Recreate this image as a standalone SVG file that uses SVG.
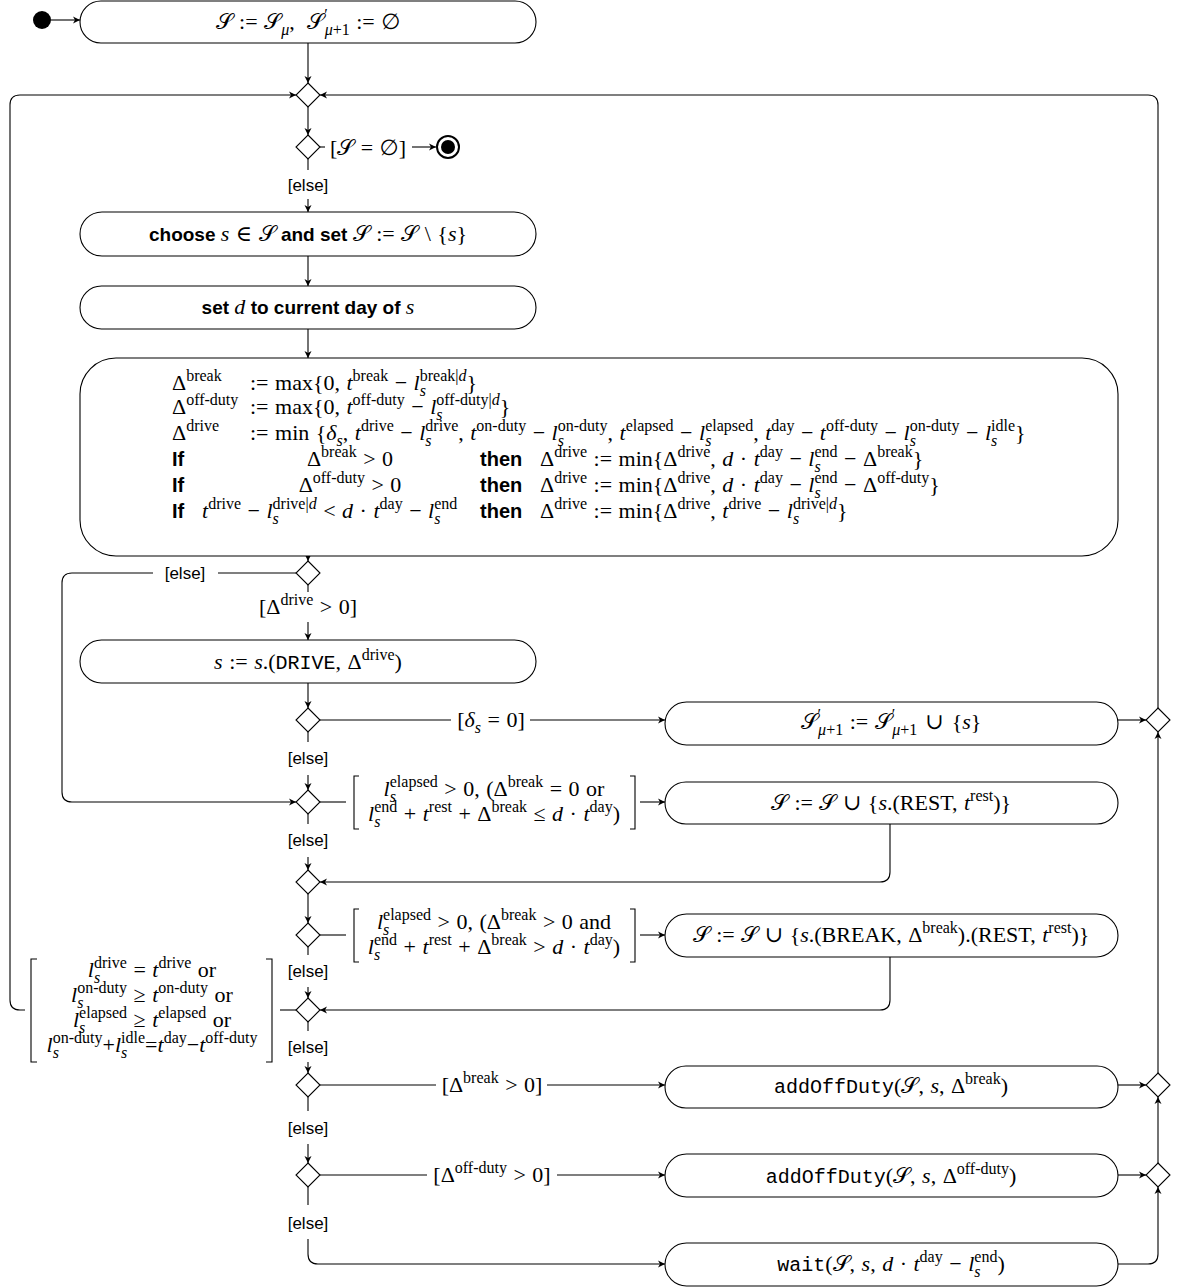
<svg xmlns="http://www.w3.org/2000/svg" width="1177" height="1288" viewBox="0 0 1177 1288">
<defs>
<marker id="ar" markerWidth="10" markerHeight="10" refX="8" refY="5" orient="auto" markerUnits="userSpaceOnUse">
<path d="M1,1.5 L8,5 L1,8.5 L3,5 z" fill="#000"/>
</marker>
<style>
.box{fill:#fff;stroke:#000;stroke-width:1.1}
.dm{fill:#fff;stroke:#000;stroke-width:1.1}
.ln{fill:none;stroke:#000;stroke-width:1.1}
.la{fill:none;stroke:#000;stroke-width:1.1;marker-end:url(#ar)}
.m{font-family:"Liberation Serif","DejaVu Serif","DejaVu Sans",serif;font-size:22px;fill:#000;word-spacing:1px}
.i{font-style:italic}
.sp{font-size:16px;word-spacing:0}
.sf{font-family:"Liberation Sans","DejaVu Sans",sans-serif;font-size:17px;fill:#000}
.sb{font-family:"Liberation Sans","DejaVu Sans",sans-serif;font-size:19px;font-weight:bold;word-spacing:0}
.tt{font-family:"Liberation Mono","DejaVu Sans Mono",monospace;font-size:20px}
</style>
</defs>
<rect width="1177" height="1288" fill="#fff"/>

<g id="connectors">
<line class="la" x1="51" y1="20" x2="80" y2="20"/>
<line class="la" x1="308" y1="42" x2="308" y2="83"/>
<line class="la" x1="308" y1="107" x2="308" y2="135"/>
<line class="ln" x1="320" y1="147" x2="325" y2="147"/>
<line class="la" x1="412" y1="147" x2="436" y2="147"/>
<line class="ln" x1="308" y1="159" x2="308" y2="170"/>
<line class="la" x1="308" y1="199" x2="308" y2="212"/>
<line class="la" x1="308" y1="256" x2="308" y2="286"/>
<line class="la" x1="308" y1="329" x2="308" y2="358"/>
<line class="la" x1="308" y1="556" x2="308" y2="561"/>
<line class="ln" x1="296" y1="573" x2="218" y2="573"/>
<path class="la" d="M153,573 H72 Q62,573 62,583 V792 Q62,802 72,802 H296"/>
<line class="ln" x1="308" y1="585" x2="308" y2="592"/>
<line class="la" x1="308" y1="622" x2="308" y2="640"/>
<line class="la" x1="308" y1="683" x2="308" y2="708"/>
<line class="ln" x1="320" y1="720" x2="451" y2="720"/>
<line class="la" x1="530" y1="720" x2="665" y2="720"/>
<line class="la" x1="1118" y1="720" x2="1146" y2="720"/>
<line class="ln" x1="308" y1="732" x2="308" y2="742"/>
<line class="la" x1="308" y1="775" x2="308" y2="790"/>
<line class="ln" x1="320" y1="802" x2="346" y2="802"/>
<line class="la" x1="640" y1="802" x2="665" y2="802"/>
<line class="ln" x1="308" y1="814" x2="308" y2="824"/>
<line class="la" x1="308" y1="857" x2="308" y2="870"/>
<path class="la" d="M890,824 V872 Q890,882 880,882 H320"/>
<line class="la" x1="308" y1="894" x2="308" y2="923"/>
<line class="ln" x1="320" y1="935" x2="346" y2="935"/>
<line class="la" x1="640" y1="935" x2="665" y2="935"/>
<line class="ln" x1="308" y1="947" x2="308" y2="955"/>
<line class="la" x1="308" y1="987" x2="308" y2="998"/>
<path class="la" d="M890,957 V1000 Q890,1010 880,1010 H320"/>
<line class="ln" x1="296" y1="1010" x2="280" y2="1010"/>
<path class="la" d="M25,1010 H20 Q10,1010 10,1000 V105 Q10,95 20,95 H296"/>
<line class="ln" x1="308" y1="1022" x2="308" y2="1031"/>
<line class="la" x1="308" y1="1062" x2="308" y2="1073"/>
<line class="ln" x1="320" y1="1085" x2="436" y2="1085"/>
<line class="la" x1="547" y1="1085" x2="665" y2="1085"/>
<line class="la" x1="1118" y1="1085" x2="1146" y2="1085"/>
<line class="ln" x1="308" y1="1097" x2="308" y2="1111"/>
<line class="la" x1="308" y1="1144" x2="308" y2="1163"/>
<line class="ln" x1="320" y1="1175" x2="427" y2="1175"/>
<line class="la" x1="557" y1="1175" x2="665" y2="1175"/>
<line class="la" x1="1118" y1="1175" x2="1146" y2="1175"/>
<line class="ln" x1="308" y1="1187" x2="308" y2="1205"/>
<path class="la" d="M308,1239 V1254 Q308,1264 318,1264 H665"/>
<path class="la" d="M1118,1264 H1148 Q1158,1264 1158,1254 V1187"/>
<line class="la" x1="1158" y1="1163" x2="1158" y2="1097"/>
<line class="la" x1="1158" y1="1073" x2="1158" y2="732"/>
<path class="la" d="M1158,708 V105 Q1158,95 1148,95 H320"/>
</g>

<g id="labels">
<text class="m" x="368" y="155" text-anchor="middle">[𝒮 = ∅]</text>
<text class="sf" x="308" y="191" text-anchor="middle">[else]</text>
<text class="sf" x="185" y="579" text-anchor="middle">[else]</text>
<text class="m" x="308" y="614" text-anchor="middle">[Δ<tspan class="sp" dy="-9">drive</tspan><tspan dy="9"> &gt; 0]</tspan></text>
<text class="m" x="491" y="727" text-anchor="middle">[<tspan class="i">δ</tspan><tspan class="sp i" dy="6">s</tspan><tspan dy="-6"> = 0]</tspan></text>
<text class="sf" x="308" y="764" text-anchor="middle">[else]</text>
<path class="ln" d="M359,776 H354 V829 H359 M630,776 H635 V829 H630"/>
<text class="m" x="494" y="796" text-anchor="middle"><tspan class="i">l</tspan><tspan class="sp i" dy="6">s</tspan><tspan class="sp" dx="-6.2" dy="-15">elapsed</tspan><tspan dy="9"> &gt; 0, (Δ</tspan><tspan class="sp" dy="-9">break</tspan><tspan dy="9"> = 0 or</tspan></text>
<text class="m" x="494" y="821" text-anchor="middle"><tspan class="i">l</tspan><tspan class="sp i" dy="6">s</tspan><tspan class="sp" dx="-6.2" dy="-15">end</tspan><tspan dy="9"> + </tspan><tspan class="i">t</tspan><tspan class="sp" dy="-9">rest</tspan><tspan dy="9"> + Δ</tspan><tspan class="sp" dy="-9">break</tspan><tspan dy="9"> ≤ </tspan><tspan class="i">d</tspan> · <tspan class="i">t</tspan><tspan class="sp" dy="-9">day</tspan><tspan dy="9">)</tspan></text>
<text class="sf" x="308" y="846" text-anchor="middle">[else]</text>
<path class="ln" d="M359,909 H354 V962 H359 M630,909 H635 V962 H630"/>
<text class="m" x="494" y="929" text-anchor="middle"><tspan class="i">l</tspan><tspan class="sp i" dy="6">s</tspan><tspan class="sp" dx="-6.2" dy="-15">elapsed</tspan><tspan dy="9"> &gt; 0, (Δ</tspan><tspan class="sp" dy="-9">break</tspan><tspan dy="9"> &gt; 0 and</tspan></text>
<text class="m" x="494" y="954" text-anchor="middle"><tspan class="i">l</tspan><tspan class="sp i" dy="6">s</tspan><tspan class="sp" dx="-6.2" dy="-15">end</tspan><tspan dy="9"> + </tspan><tspan class="i">t</tspan><tspan class="sp" dy="-9">rest</tspan><tspan dy="9"> + Δ</tspan><tspan class="sp" dy="-9">break</tspan><tspan dy="9"> &gt; </tspan><tspan class="i">d</tspan> · <tspan class="i">t</tspan><tspan class="sp" dy="-9">day</tspan><tspan dy="9">)</tspan></text>
<text class="sf" x="308" y="977" text-anchor="middle">[else]</text>
<path class="ln" d="M37,959 H31 V1062 H37 M266,959 H272 V1062 H266"/>
<text class="m" x="152" y="977" text-anchor="middle"><tspan class="i">l</tspan><tspan class="sp i" dy="6">s</tspan><tspan class="sp" dx="-6.2" dy="-15">drive</tspan><tspan dy="9"> = </tspan><tspan class="i">t</tspan><tspan class="sp" dy="-9">drive</tspan><tspan dy="9"> or</tspan></text>
<text class="m" x="152" y="1002" text-anchor="middle"><tspan class="i">l</tspan><tspan class="sp i" dy="6">s</tspan><tspan class="sp" dx="-6.2" dy="-15">on-duty</tspan><tspan dy="9"> ≥ </tspan><tspan class="i">t</tspan><tspan class="sp" dy="-9">on-duty</tspan><tspan dy="9"> or</tspan></text>
<text class="m" x="152" y="1027" text-anchor="middle"><tspan class="i">l</tspan><tspan class="sp i" dy="6">s</tspan><tspan class="sp" dx="-6.2" dy="-15">elapsed</tspan><tspan dy="9"> ≥ </tspan><tspan class="i">t</tspan><tspan class="sp" dy="-9">elapsed</tspan><tspan dy="9"> or</tspan></text>
<text class="m" x="152" y="1052" text-anchor="middle"><tspan class="i">l</tspan><tspan class="sp i" dy="6">s</tspan><tspan class="sp" dx="-6.2" dy="-15">on-duty</tspan><tspan dy="9">+</tspan><tspan class="i">l</tspan><tspan class="sp i" dy="6">s</tspan><tspan class="sp" dx="-6.2" dy="-15">idle</tspan><tspan dy="9">=</tspan><tspan class="i">t</tspan><tspan class="sp" dy="-9">day</tspan><tspan dy="9">−</tspan><tspan class="i">t</tspan><tspan class="sp" dy="-9">off-duty</tspan></text>
<text class="sf" x="308" y="1053" text-anchor="middle">[else]</text>
<text class="m" x="492" y="1092" text-anchor="middle">[Δ<tspan class="sp" dy="-9">break</tspan><tspan dy="9"> &gt; 0]</tspan></text>
<text class="sf" x="308" y="1134" text-anchor="middle">[else]</text>
<text class="m" x="492" y="1182" text-anchor="middle">[Δ<tspan class="sp" dy="-9">off-duty</tspan><tspan dy="9"> &gt; 0]</tspan></text>
<text class="sf" x="308" y="1229" text-anchor="middle">[else]</text>
</g>

<g id="start"><circle cx="42" cy="20" r="9" fill="#000"/></g>
<g id="end"><circle cx="448" cy="147" r="11" fill="#fff" stroke="#000" stroke-width="2"/><circle cx="448" cy="147" r="7" fill="#000"/></g>

<g id="n-init">
<rect class="box" x="80" y="1" width="456" height="42" rx="21"/>
<text class="m" x="308" y="29" text-anchor="middle">𝒮 := 𝒮<tspan class="sp i" dy="6">μ</tspan><tspan dy="-6">, </tspan><tspan dx="6">𝒮</tspan><tspan class="sp" dy="-9">′</tspan><tspan class="sp" dx="-3" dy="15"><tspan class="i">μ</tspan>+1</tspan><tspan dy="-6"> := ∅</tspan></text>
</g>

<g id="d-merge"><path class="dm" d="M308,83 L320,95 L308,107 L296,95 z"/></g>
<g id="d-empty"><path class="dm" d="M308,135 L320,147 L308,159 L296,147 z"/></g>

<g id="n-choose">
<rect class="box" x="80" y="212" width="456" height="44" rx="22"/>
<text class="m" x="308" y="241" text-anchor="middle"><tspan class="sb">choose </tspan><tspan class="i">s</tspan> ∈ 𝒮<tspan class="sb"> and set </tspan>𝒮 := 𝒮  \ {<tspan class="i">s</tspan>}</text>
</g>

<g id="n-day">
<rect class="box" x="80" y="286" width="456" height="43" rx="21.5"/>
<text class="m" x="308" y="314" text-anchor="middle"><tspan class="sb">set </tspan><tspan class="i">d</tspan><tspan class="sb"> to current day of </tspan><tspan class="i">s</tspan></text>
</g>

<g id="n-compute">
<rect class="box" x="80" y="358" width="1038" height="198" rx="36"/>
<text class="m" y="390"><tspan x="172">Δ</tspan><tspan class="sp" dy="-9">break</tspan><tspan x="250" dy="9">:= max{0, </tspan><tspan class="i">t</tspan><tspan class="sp" dy="-9">break</tspan><tspan dy="9"> − </tspan><tspan class="i">l</tspan><tspan class="sp i" dy="6">s</tspan><tspan class="sp" dx="-6.2" dy="-15">break|<tspan class="i">d</tspan></tspan><tspan dy="9">}</tspan></text>
<text class="m" y="414"><tspan x="172">Δ</tspan><tspan class="sp" dy="-9">off-duty</tspan><tspan x="250" dy="9">:= max{0, </tspan><tspan class="i">t</tspan><tspan class="sp" dy="-9">off-duty</tspan><tspan dy="9"> − </tspan><tspan class="i">l</tspan><tspan class="sp i" dy="6">s</tspan><tspan class="sp" dx="-6.2" dy="-15">off-duty|<tspan class="i">d</tspan></tspan><tspan dy="9">}</tspan></text>
<text class="m" y="440"><tspan x="172">Δ</tspan><tspan class="sp" dy="-9">drive</tspan><tspan x="250" dy="9">:= min {</tspan><tspan class="i">δ</tspan><tspan class="sp i" dy="6">s</tspan><tspan dy="-6">, </tspan><tspan class="i">t</tspan><tspan class="sp" dy="-9">drive</tspan><tspan dy="9"> − </tspan><tspan class="i">l</tspan><tspan class="sp i" dy="6">s</tspan><tspan class="sp" dx="-6.2" dy="-15">drive</tspan><tspan dy="9">, </tspan><tspan class="i">t</tspan><tspan class="sp" dy="-9">on-duty</tspan><tspan dy="9"> − </tspan><tspan class="i">l</tspan><tspan class="sp i" dy="6">s</tspan><tspan class="sp" dx="-6.2" dy="-15">on-duty</tspan><tspan dy="9">, </tspan><tspan class="i">t</tspan><tspan class="sp" dy="-9">elapsed</tspan><tspan dy="9"> − </tspan><tspan class="i">l</tspan><tspan class="sp i" dy="6">s</tspan><tspan class="sp" dx="-6.2" dy="-15">elapsed</tspan><tspan dy="9">, </tspan><tspan class="i">t</tspan><tspan class="sp" dy="-9">day</tspan><tspan dy="9"> − </tspan><tspan class="i">t</tspan><tspan class="sp" dy="-9">off-duty</tspan><tspan dy="9"> − </tspan><tspan class="i">l</tspan><tspan class="sp i" dy="6">s</tspan><tspan class="sp" dx="-6.2" dy="-15">on-duty</tspan><tspan dy="9"> − </tspan><tspan class="i">l</tspan><tspan class="sp i" dy="6">s</tspan><tspan class="sp" dx="-6.2" dy="-15">idle</tspan><tspan dy="9">}</tspan></text>
<text class="sb" x="172" y="466" style="font-size:20px">If</text>
<text class="m" x="350" y="466" text-anchor="middle">Δ<tspan class="sp" dy="-9">break</tspan><tspan dy="9"> &gt; 0</tspan></text>
<text class="sb" x="480" y="466" style="font-size:20px">then</text>
<text class="m" x="540" y="466">Δ<tspan class="sp" dy="-9">drive</tspan><tspan dy="9"> := min{Δ</tspan><tspan class="sp" dy="-9">drive</tspan><tspan dy="9">, </tspan><tspan class="i">d</tspan> · <tspan class="i">t</tspan><tspan class="sp" dy="-9">day</tspan><tspan dy="9"> − </tspan><tspan class="i">l</tspan><tspan class="sp i" dy="6">s</tspan><tspan class="sp" dx="-6.2" dy="-15">end</tspan><tspan dy="9"> − Δ</tspan><tspan class="sp" dy="-9">break</tspan><tspan dy="9">}</tspan></text>
<text class="sb" x="172" y="492" style="font-size:20px">If</text>
<text class="m" x="350" y="492" text-anchor="middle">Δ<tspan class="sp" dy="-9">off-duty</tspan><tspan dy="9"> &gt; 0</tspan></text>
<text class="sb" x="480" y="492" style="font-size:20px">then</text>
<text class="m" x="540" y="492">Δ<tspan class="sp" dy="-9">drive</tspan><tspan dy="9"> := min{Δ</tspan><tspan class="sp" dy="-9">drive</tspan><tspan dy="9">, </tspan><tspan class="i">d</tspan> · <tspan class="i">t</tspan><tspan class="sp" dy="-9">day</tspan><tspan dy="9"> − </tspan><tspan class="i">l</tspan><tspan class="sp i" dy="6">s</tspan><tspan class="sp" dx="-6.2" dy="-15">end</tspan><tspan dy="9"> − Δ</tspan><tspan class="sp" dy="-9">off-duty</tspan><tspan dy="9">}</tspan></text>
<text class="sb" x="172" y="518" style="font-size:20px">If</text>
<text class="m" x="202" y="518"><tspan class="i">t</tspan><tspan class="sp" dy="-9">drive</tspan><tspan dy="9"> − </tspan><tspan class="i">l</tspan><tspan class="sp i" dy="6">s</tspan><tspan class="sp" dx="-6.2" dy="-15">drive|<tspan class="i">d</tspan></tspan><tspan dy="9"> &lt; </tspan><tspan class="i">d</tspan> · <tspan class="i">t</tspan><tspan class="sp" dy="-9">day</tspan><tspan dy="9"> − </tspan><tspan class="i">l</tspan><tspan class="sp i" dy="6">s</tspan><tspan class="sp" dx="-6.2" dy="-15">end</tspan></text>
<text class="sb" x="480" y="518" style="font-size:20px">then</text>
<text class="m" x="540" y="518">Δ<tspan class="sp" dy="-9">drive</tspan><tspan dy="9"> := min{Δ</tspan><tspan class="sp" dy="-9">drive</tspan><tspan dy="9">, </tspan><tspan class="i">t</tspan><tspan class="sp" dy="-9">drive</tspan><tspan dy="9"> − </tspan><tspan class="i">l</tspan><tspan class="sp i" dy="6">s</tspan><tspan class="sp" dx="-6.2" dy="-15">drive|<tspan class="i">d</tspan></tspan><tspan dy="9">}</tspan></text>
</g>

<g id="d-drive"><path class="dm" d="M308,561 L320,573 L308,585 L296,573 z"/></g>

<g id="n-drive">
<rect class="box" x="80" y="640" width="456" height="43" rx="21.5"/>
<text class="m" x="308" y="669" text-anchor="middle"><tspan class="i">s</tspan> := <tspan class="i">s</tspan>.(<tspan class="tt">DRIVE</tspan>, Δ<tspan class="sp" dy="-9">drive</tspan><tspan dy="9">)</tspan></text>
</g>

<g id="d-delta"><path class="dm" d="M308,708 L320,720 L308,732 L296,720 z"/></g>

<g id="n-next">
<rect class="box" x="665" y="702" width="453" height="43" rx="21.5"/>
<text class="m" x="891" y="729" text-anchor="middle">𝒮<tspan class="sp" dy="-9">′</tspan><tspan class="sp" dx="-3" dy="15"><tspan class="i">μ</tspan>+1</tspan><tspan dy="-6"> := 𝒮</tspan><tspan class="sp" dy="-9">′</tspan><tspan class="sp" dx="-3" dy="15"><tspan class="i">μ</tspan>+1</tspan><tspan dy="-6" dx="8">∪</tspan><tspan dx="8">{</tspan><tspan class="i">s</tspan>}</text>
</g>

<g id="d-rest"><path class="dm" d="M308,790 L320,802 L308,814 L296,802 z"/></g>

<g id="n-rest">
<rect class="box" x="665" y="782" width="453" height="42" rx="21"/>
<text class="m" x="891" y="810" text-anchor="middle">𝒮 := 𝒮 ∪ {<tspan class="i">s</tspan>.(REST, <tspan class="i">t</tspan><tspan class="sp" dy="-9">rest</tspan><tspan dy="9">)}</tspan></text>
</g>

<g id="d-m1"><path class="dm" d="M308,870 L320,882 L308,894 L296,882 z"/></g>
<g id="d-break"><path class="dm" d="M308,923 L320,935 L308,947 L296,935 z"/></g>

<g id="n-breakrest">
<rect class="box" x="665" y="914" width="453" height="43" rx="21.5"/>
<text class="m" x="891" y="942" text-anchor="middle">𝒮 := 𝒮 ∪ {<tspan class="i">s</tspan>.(BREAK, Δ<tspan class="sp" dy="-9">break</tspan><tspan dy="9">).(REST, </tspan><tspan class="i">t</tspan><tspan class="sp" dy="-9">rest</tspan><tspan dy="9">)}</tspan></text>
</g>

<g id="d-limits"><path class="dm" d="M308,998 L320,1010 L308,1022 L296,1010 z"/></g>
<g id="d-offbreak"><path class="dm" d="M308,1073 L320,1085 L308,1097 L296,1085 z"/></g>

<g id="n-off1">
<rect class="box" x="665" y="1066" width="453" height="42" rx="21"/>
<text class="m" x="891" y="1093" text-anchor="middle"><tspan class="tt">addOffDuty</tspan>(𝒮, <tspan class="i">s</tspan>, Δ<tspan class="sp" dy="-9">break</tspan><tspan dy="9">)</tspan></text>
</g>

<g id="d-offduty"><path class="dm" d="M308,1163 L320,1175 L308,1187 L296,1175 z"/></g>

<g id="n-off2">
<rect class="box" x="665" y="1154" width="453" height="43" rx="21.5"/>
<text class="m" x="891" y="1183" text-anchor="middle"><tspan class="tt">addOffDuty</tspan>(𝒮, <tspan class="i">s</tspan>, Δ<tspan class="sp" dy="-9">off-duty</tspan><tspan dy="9">)</tspan></text>
</g>

<g id="n-wait">
<rect class="box" x="665" y="1243" width="453" height="43" rx="21.5"/>
<text class="m" x="891" y="1271" text-anchor="middle"><tspan class="tt">wait</tspan>(𝒮, <tspan class="i">s</tspan>, <tspan class="i">d</tspan> · <tspan class="i">t</tspan><tspan class="sp" dy="-9">day</tspan><tspan dy="9"> − </tspan><tspan class="i">l</tspan><tspan class="sp i" dy="6">s</tspan><tspan class="sp" dx="-6.2" dy="-15">end</tspan><tspan dy="9">)</tspan></text>
</g>

<g id="d-r1"><path class="dm" d="M1158,708 L1170,720 L1158,732 L1146,720 z"/></g>
<g id="d-r2"><path class="dm" d="M1158,1073 L1170,1085 L1158,1097 L1146,1085 z"/></g>
<g id="d-r3"><path class="dm" d="M1158,1163 L1170,1175 L1158,1187 L1146,1175 z"/></g>
</svg>
